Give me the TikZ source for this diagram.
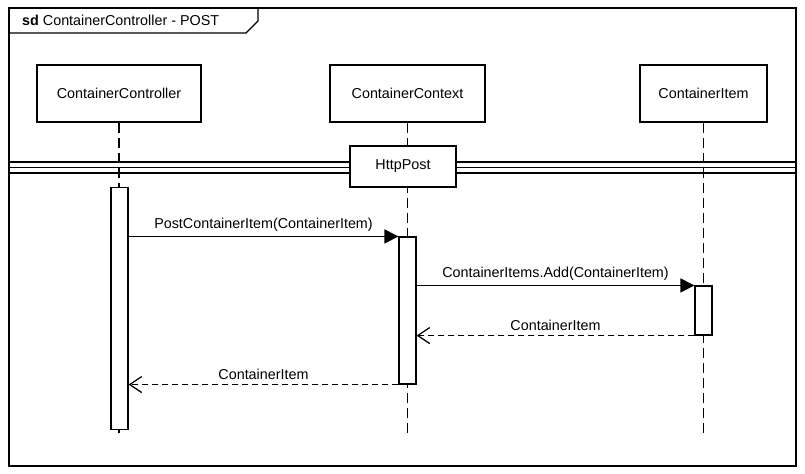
\documentclass[tikz,border=0pt]{standalone}
\usepackage{fontspec}
\setmainfont{Liberation Sans}
\usetikzlibrary{arrows.meta}
\begin{document}
\begin{tikzpicture}[x=1bp,y=-1bp,
  every node/.style={font=\fontsize{14.4}{17}\selectfont},
  lifebox/.style={draw,line width=2.5bp,fill=white,minimum height=57bp,inner sep=0pt},
  actbar/.style={draw,line width=1.1bp,fill=white,minimum width=17bp,inner sep=0pt},
  lifeline/.style={line width=1.4bp,dash pattern=on 10bp off 5bp},
  msg/.style={line width=1.4bp,-{Triangle[length=14bp,width=14bp]}},
  ret/.style={line width=1.4bp,dash pattern=on 6bp off 4bp,-{Straight Barb[length=12bp,width=16bp,line width=1.3bp]}},
  sep/.style={line width=1.4bp},
  lbl/.style={above=3bp,midway,inner sep=1bp}]
\useasboundingbox (0,0) rectangle (805,474);
% frame
\node[draw,line width=1.6bp,minimum width=787bp,minimum height=458bp,inner sep=0pt] (frame) at (402.5,237) {};
\draw[line width=1.4bp] (9,33) -- (246,33) -- (258,21) -- (258,8);
\node[anchor=west,inner sep=0pt] (title) at (22,20.5) {\textbf{sd} ContainerController - POST};
% lifeline heads
\node[lifebox,minimum width=164bp] (c1) at (119,93.5) {ContainerController};
\node[lifebox,minimum width=155bp] (c2) at (407.5,93.5) {ContainerContext};
\node[lifebox,minimum width=127bp] (c3) at (703.5,93.5) {ContainerItem};
\coordinate (e1) at (119,435);
\coordinate (e2) at (407.5,435);
\coordinate (e3) at (703.5,435);
\draw[lifeline] (c1) -- (e1);
\draw[lifeline] (c2) -- (e2);
\draw[lifeline] (c3) -- (e3);
% HttpPost fragment
\node[draw,line width=1.3bp,fill=white,minimum width=106bp,minimum height=41bp,inner sep=0pt] (hp) at (403,166.5) {HttpPost};
\foreach \yy in {162,167.5,173}{
  \draw[sep] (frame.west |- 0,\yy) -- (hp.west |- 0,\yy);
  \draw[sep] (hp.east |- 0,\yy) -- (frame.east |- 0,\yy);
}
% activation bars
\node[actbar,minimum height=242bp] (a1) at (119.5,308.5) {};
\node[actbar,minimum height=147bp] (a2) at (407.5,310.5) {};
\node[actbar,minimum height=49bp] (a3) at (703.5,310.5) {};
% messages
\draw[msg] (a1.east |- a2.north west) -- (a2.north west) node[lbl] {PostContainerItem(ContainerItem)};
\draw[msg] (a2.east |- a3.north west) -- (a3.north west) node[lbl] {ContainerItems.Add(ContainerItem)};
\draw[ret] (a3.south west) -- (a2.east |- a3.south west) node[lbl] {ContainerItem};
\draw[ret] (a2.south west) -- (a1.east |- a2.south west) node[lbl] {ContainerItem};
\end{tikzpicture}
\end{document}
